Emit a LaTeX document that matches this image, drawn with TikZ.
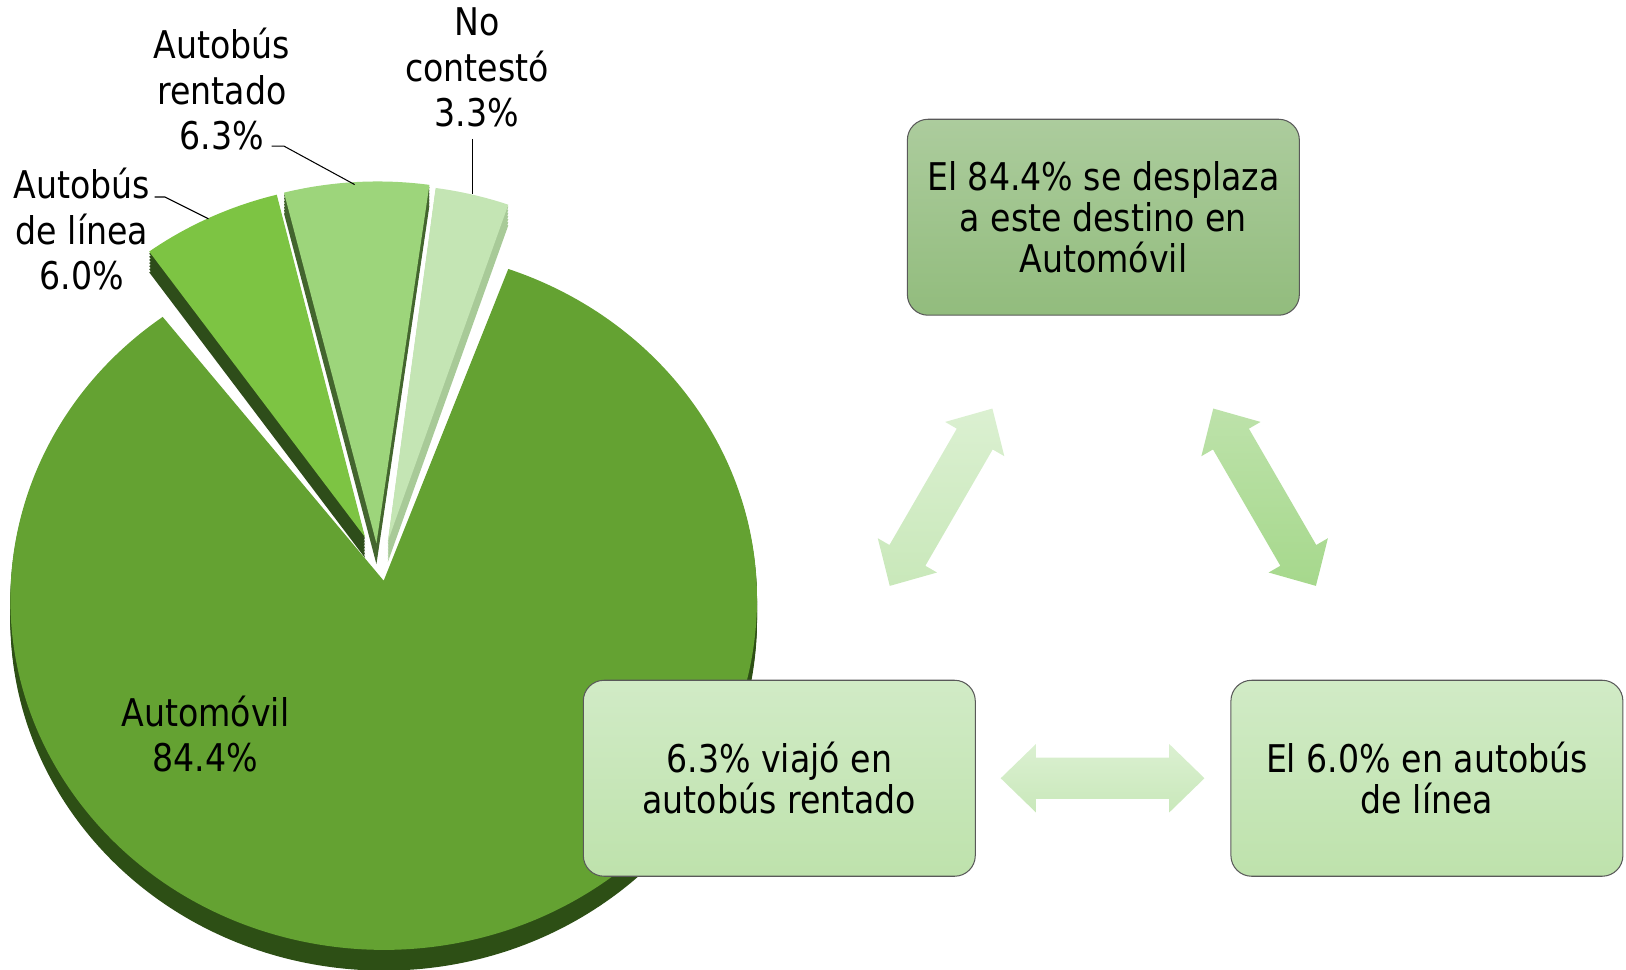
\documentclass[tikz,border=0pt]{standalone}
\usepackage{fontspec}
\setmainfont{DejaVu Sans}[FakeStretch=0.87]
\usetikzlibrary{calc}

\definecolor{carface}{HTML}{64A232}
\definecolor{carside}{HTML}{2D4F15}
\definecolor{linface}{HTML}{7DC443}
\definecolor{linside}{HTML}{2E4D1A}
\definecolor{renface}{HTML}{9DD57B}
\definecolor{renside}{HTML}{43652E}
\definecolor{ncface}{HTML}{C4E5B4}
\definecolor{ncside}{HTML}{A8CA98}
\definecolor{boxtopa}{HTML}{ACCC9D}
\definecolor{boxtopb}{HTML}{92BC7D}
\definecolor{boxlowa}{HTML}{D1EBC6}
\definecolor{boxlowb}{HTML}{BEE2AC}
\definecolor{arrpalea}{HTML}{DBF0D1}
\definecolor{arrpaleb}{HTML}{C9E8BA}
\definecolor{arrmida}{HTML}{BDE2AA}
\definecolor{arrmidb}{HTML}{A6D88C}

% double headed block arrow between two named points
\newcommand{\twoway}[3]{%
  \shade[#3] (#1) -- ($(#1)!17pt!(#2)!16.5pt!90:(#2)$) -- ($(#1)!17pt!(#2)!10pt!90:(#2)$)
    -- ($(#2)!17pt!(#1)!10pt!-90:(#1)$) -- ($(#2)!17pt!(#1)!16.5pt!-90:(#1)$) -- (#2)
    -- ($(#2)!17pt!(#1)!16.5pt!90:(#1)$) -- ($(#2)!17pt!(#1)!10pt!90:(#1)$)
    -- ($(#1)!17pt!(#2)!10pt!-90:(#2)$) -- ($(#1)!17pt!(#2)!16.5pt!-90:(#2)$) -- cycle;}

\begin{document}
\begin{tikzpicture}[x=0.5pt,y=0.5pt,
    box/.style={draw=black!65, line width=0.5pt, rounded corners=10pt, minimum width=189pt,
      minimum height=94.5pt, inner sep=0pt, align=center, font=\fontsize{18.4}{19.6}\selectfont},
    lbl/.style={inner sep=0pt, align=center, font=\fontsize{18.4}{22}\selectfont},
    leader/.style={draw=black, line width=0.5pt},
    pale/.style={top color=arrpalea, bottom color=arrpaleb},
    mid/.style={top color=arrmida, bottom color=arrmidb}]
    \useasboundingbox (0,0) rectangle (1568,935);

    % pie, exploded slices first, main slice last
    \coordinate (ctr) at (370,357); % ellipse centre
    \foreach \sa/\sb/\ox/\oy/\px/\py/\face/\side in {
        104.5/126.3/-13/63/352/417/linface/linside,
        82/104.5/-6/65/363/411/renface/renside,
        70.5/82/0/62/374/413/ncface/ncside,
        126.3/430.5/0/0/370/375/carface/carside}
    {
      \foreach \d in {20,17,...,2}
        \fill[\side] (\px,\py-\d) -- ($(ctr)+(\ox,\oy-\d)+(\sa:360 and 338)$)
          arc[start angle=\sa, end angle=\sb, x radius=360, y radius=338] -- cycle; % depth
      \fill[\face] (\px,\py) -- ($(ctr)+(\ox,\oy)+(\sa:360 and 338)$)
        arc[start angle=\sa, end angle=\sb, x radius=360, y radius=338] -- cycle; % face
    }

    % slice labels
    \node[lbl] (lbl-lin) at (79,714) {Autobús\\de línea\\6.0\%};
    \node[lbl] (lbl-ren) at (214,849) {Autobús\\rentado\\6.3\%};
    \node[lbl] (lbl-nc) at (460,870) {No\\contestó\\3.3\%};
    \node[lbl] (lbl-car) at (198,227) {Automóvil\\84.4\%};

    \coordinate (lin-a) at (149,745);
    \coordinate (lin-b) at (201,724);
    \coordinate (ren-a) at (262,794);
    \coordinate (ren-b) at (342,757);
    \coordinate (nc-b) at (456,748);
    \draw[leader] (lin-a) -- ++(10,0) -- (lin-b);
    \draw[leader] (ren-a) -- ++(12,0) -- (ren-b);
    \draw[leader] (nc-b |- 0,801) -- (nc-b);

    % text boxes
    \node[box, top color=boxtopa, bottom color=boxtopb] (car) at (1064,725.5)
      {El 84.4\% se desplaza\\a este destino en\\Automóvil};
    \node[box, top color=boxlowa, bottom color=boxlowb] (ren) at (751.5,184.5)
      {6.3\% viajó en\\autobús rentado};
    \node[box, top color=boxlowa, bottom color=boxlowb] (lin) at (1376,184.5)
      {El 6.0\% en autobús\\de línea};

    % block arrows between the boxes
    \coordinate (dl-a) at (858,370);
    \coordinate (dl-b) at (957,541);
    \coordinate (dr-a) at (1170,541);
    \coordinate (dr-b) at (1269,370);
    \coordinate (hz-a) at ([xshift=12pt]ren.east);
    \coordinate (hz-b) at ([xshift=-12.5pt]lin.west);
    \twoway{dl-a}{dl-b}{pale}
    \twoway{dr-a}{dr-b}{mid}
    \twoway{hz-a}{hz-b}{pale}
\end{tikzpicture}
\end{document}
